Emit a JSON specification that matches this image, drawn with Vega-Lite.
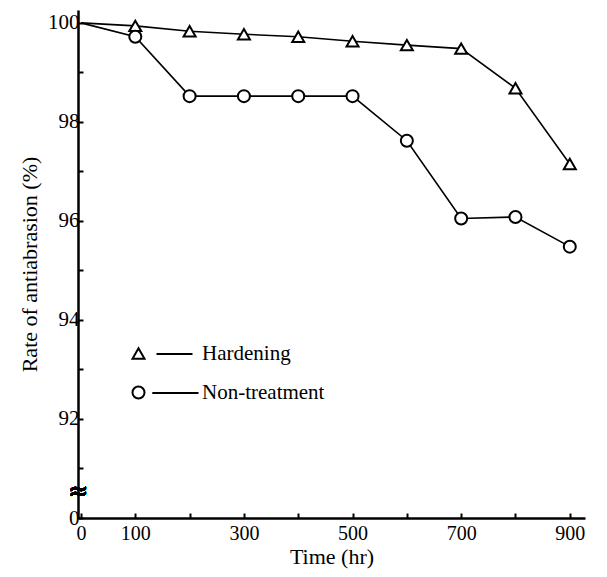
{
  "$schema": "https://vega.github.io/schema/vega-lite/v6.json",
  "width": 507,
  "height": 508,
  "autosize": {"type": "none"},
  "padding": {"left": 78, "top": 10, "right": 22, "bottom": 59},
  "background": "white",
  "config": {
    "view": {"stroke": null},
    "font": "Liberation Serif",
    "axis": {
      "domainColor": "black", "domainWidth": 2.5, "tickColor": "black", "tickWidth": 2,
      "tickSize": -5, "labelColor": "black", "titleColor": "black", "grid": false,
      "labelFont": "Liberation Serif", "titleFont": "Liberation Serif", "titleFontWeight": "normal",
      "labelOverlap": false, "labelFlush": false
    },
    "legend": {
      "orient": "none", "title": null, "labelFont": "Liberation Serif", "labelFontSize": 21,
      "labelColor": "black", "symbolSize": 144, "symbolStrokeWidth": 2, "labelOffset": 53
    }
  },
  "data": {
    "values": [
      {"series": "Hardening", "time": 0, "rate": 100},
      {"series": "Hardening", "time": 100, "rate": 99.94},
      {"series": "Hardening", "time": 200, "rate": 99.83},
      {"series": "Hardening", "time": 300, "rate": 99.77},
      {"series": "Hardening", "time": 400, "rate": 99.72},
      {"series": "Hardening", "time": 500, "rate": 99.63},
      {"series": "Hardening", "time": 600, "rate": 99.55},
      {"series": "Hardening", "time": 700, "rate": 99.48},
      {"series": "Hardening", "time": 800, "rate": 98.68},
      {"series": "Hardening", "time": 900, "rate": 97.15},
      {"series": "Non-treatment", "time": 0, "rate": 100},
      {"series": "Non-treatment", "time": 100, "rate": 99.72},
      {"series": "Non-treatment", "time": 200, "rate": 98.52},
      {"series": "Non-treatment", "time": 300, "rate": 98.52},
      {"series": "Non-treatment", "time": 400, "rate": 98.52},
      {"series": "Non-treatment", "time": 500, "rate": 98.52},
      {"series": "Non-treatment", "time": 600, "rate": 97.62},
      {"series": "Non-treatment", "time": 700, "rate": 96.05},
      {"series": "Non-treatment", "time": 800, "rate": 96.08},
      {"series": "Non-treatment", "time": 900, "rate": 95.48}
    ]
  },
  "layer": [
    {
      "mark": {"type": "line", "stroke": "black", "strokeWidth": 1.6},
      "encoding": {
        "x": {
          "field": "time", "type": "quantitative", "title": "Time (hr)",
          "scale": {"domain": [-5.5, 928], "nice": false, "zero": false},
          "axis": {
            "values": [0, 100, 200, 300, 400, 500, 600, 700, 800, 900],
            "labelExpr": "indexof([0,100,300,500,700,900], datum.value) >= 0 ? datum.label : ''",
            "labelFontSize": 20, "titleFontSize": 22, "labelPadding": 10, "titlePadding": 3
          }
        },
        "y": {
          "field": "rate", "type": "quantitative", "title": "Rate of antiabrasion (%)",
          "scale": {"domain": [90, 100.26], "nice": false, "zero": false},
          "axis": {
            "values": [90, 91, 92, 93, 94, 95, 96, 97, 98, 99, 100],
            "labelExpr": "datum.value == 90 ? '0' : (datum.value % 2 == 0 ? datum.label : '')",
            "labelFontSize": 21, "titleFontSize": 22, "labelPadding": 4, "titlePadding": 6
          }
        },
        "detail": {"field": "series"}
      }
    },
    {
      "transform": [{"filter": "datum.time > 0 && datum.series == 'Hardening'"}],
      "mark": {"type": "point", "shape": "triangle-up", "filled": false, "fill": "white", "stroke": "black", "strokeWidth": 2, "opacity": 1, "size": 144},
      "encoding": {
        "x": {"field": "time", "type": "quantitative", "title": "Time (hr)"},
        "y": {"field": "rate", "type": "quantitative", "title": "Rate of antiabrasion (%)"},
        "fill": {
          "field": "series", "type": "nominal",
          "scale": {"domain": ["Hardening"], "range": ["white"]},
          "legend": {
            "legendX": 50, "legendY": 333,
            "symbolType": "M-1,0.87L0,-0.87L1,0.87Z M3,0.1L9,0.1",
            "symbolStrokeColor": "black"
          }
        }
      }
    },
    {
      "transform": [{"filter": "datum.time > 0 && datum.series == 'Non-treatment'"}],
      "mark": {"type": "point", "shape": "circle", "filled": false, "fill": "white", "strokeWidth": 2, "opacity": 1, "size": 144},
      "encoding": {
        "x": {"field": "time", "type": "quantitative", "title": "Time (hr)"},
        "y": {"field": "rate", "type": "quantitative", "title": "Rate of antiabrasion (%)"},
        "stroke": {
          "field": "series", "type": "nominal",
          "scale": {"domain": ["Non-treatment"], "range": ["black"]},
          "legend": {
            "legendX": 50, "legendY": 372,
            "symbolType": "M-1,0A1,1 0 1,1 1,0A1,1 0 1,1 -1,0Z M2.3,0.1L10,0.1",
            "symbolFillColor": "white"
          }
        }
      }
    },
    {
      "mark": {"type": "text", "text": "≈", "font": "DejaVu Sans", "fontSize": 24, "fontWeight": "bold", "color": "black", "baseline": "middle", "align": "center"},
      "encoding": {
        "x": {"datum": -5.5, "type": "quantitative", "title": "Time (hr)"},
        "y": {"datum": 90.52, "type": "quantitative", "title": "Rate of antiabrasion (%)"}
      }
    }
  ]
}
